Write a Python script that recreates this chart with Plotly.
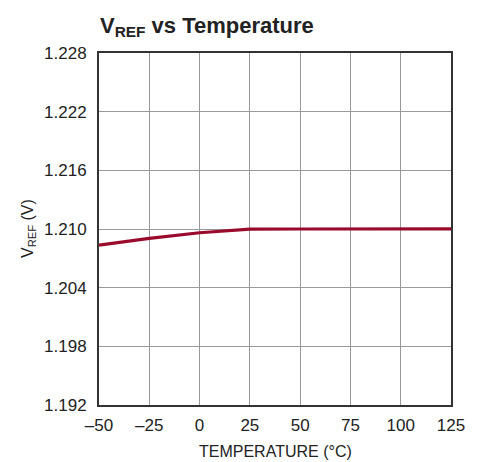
import plotly.graph_objects as go

temperature = [-50, -25, 0, 25, 50, 75, 100, 125]
vref = [1.20836, 1.20905, 1.20962, 1.20998, 1.21000, 1.21001, 1.21003, 1.21002]

x_ticks = [-50, -25, 0, 25, 50, 75, 100, 125]
x_ticktext = ["\u201350", "\u201325", "0", "25", "50", "75", "100", "125"]
y_ticks = [1.192, 1.198, 1.204, 1.210, 1.216, 1.222, 1.228]
y_ticktext = ["1.192", "1.198", "1.204", "1.210", "1.216", "1.222", "1.228"]

font = "Liberation Sans Narrow, Arial Narrow, Liberation Sans, Arial, sans-serif"

fig = go.Figure()
fig.add_trace(go.Scatter(
    x=temperature, y=vref, mode="lines",
    line=dict(color="#9a0a2c", width=3.2),
    showlegend=False, hoverinfo="skip",
))

fig.update_layout(
    width=472, height=454,
    margin=dict(l=91, r=29, t=45, b=57, autoexpand=False),
    paper_bgcolor="white", plot_bgcolor="white",
    font=dict(family=font, size=17, color="#222"),
    title=dict(
        text="<b>V<sub>REF</sub> vs Temperature</b>",
        x=92/472, xanchor="left", y=1 - 17/454, yanchor="middle",
        font=dict(family=font, size=22, color="#222"),
    ),
    annotations=[
        dict(text="TEMPERATURE (°C)", xref="paper", yref="paper", x=0.5, y=0,
             xanchor="center", yanchor="middle", yshift=-46, showarrow=False,
             font=dict(family=font, size=16, color="#222")),
        dict(text="V<sub>REF</sub> (V)", xref="paper", yref="paper", x=0, y=0.5,
             xanchor="center", yanchor="middle", xshift=-71, textangle=-90, showarrow=False,
             font=dict(family=font, size=16, color="#222")),
    ],
)
fig.update_xaxes(
    range=[-50, 125], tickvals=x_ticks, ticktext=x_ticktext,
    showgrid=True, gridcolor="#999", gridwidth=1,
    showline=True, linecolor="#333", linewidth=2, mirror=True,
    ticks="outside", ticklen=4, tickcolor="rgba(0,0,0,0)", zeroline=False,
    automargin=False, tickfont=dict(family=font, size=17),
)
fig.update_yaxes(
    range=[1.192, 1.228], tickvals=y_ticks, ticktext=y_ticktext,
    showgrid=True, gridcolor="#999", gridwidth=1,
    showline=True, linecolor="#333", linewidth=2, mirror=True,
    ticks="outside", ticklen=7, tickcolor="rgba(0,0,0,0)", zeroline=False,
    automargin=False, tickfont=dict(family=font, size=17),
)

fig.write_html("out.html")
